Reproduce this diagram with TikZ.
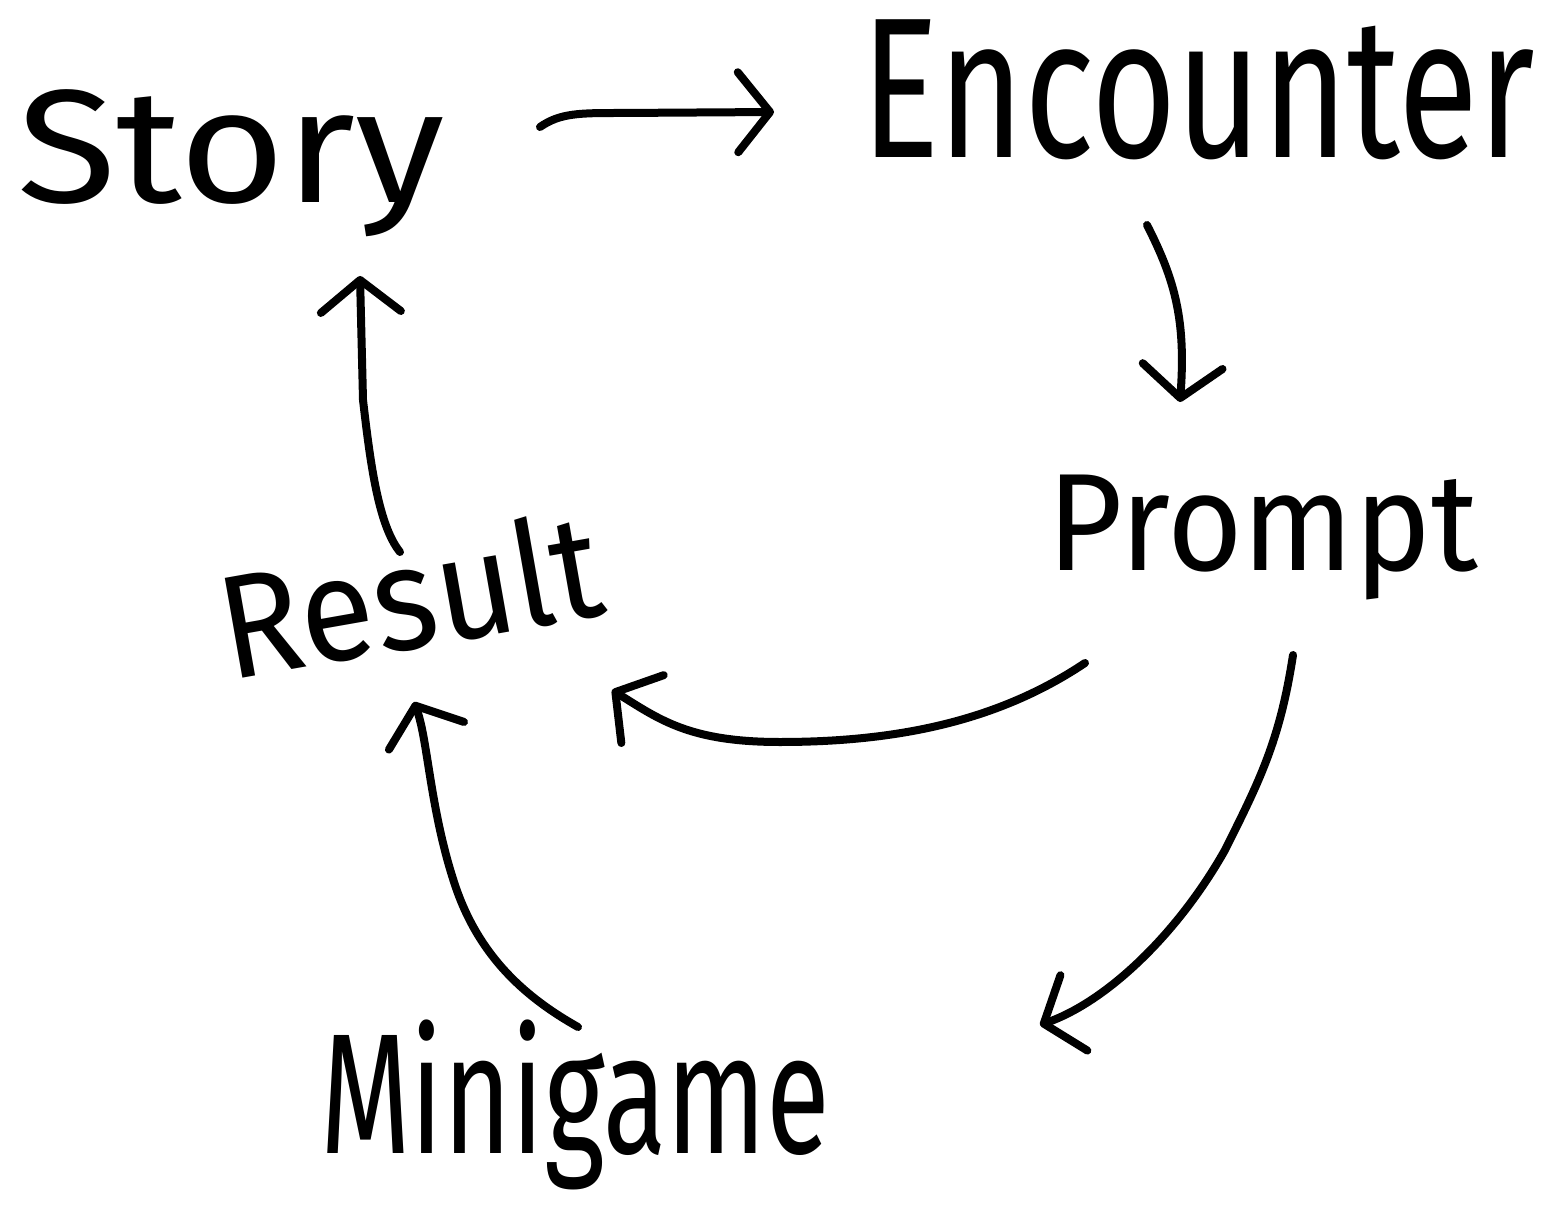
\documentclass[tikz,border=0pt]{standalone}
\usepackage{fontspec}
\usepackage{graphicx}
\newfontfamily\handfont{Fira Sans}
\usetikzlibrary{arrows.meta}
\begin{document}
\begin{tikzpicture}[x=1pt,y=-1pt,
  word/.style={inner sep=0pt,outer sep=0pt,font=\handfont},
  flow/.style={line width=8pt,line cap=round,line join=round,
    -{Straight Barb[length=32pt,width=80pt,round]}}]
\useasboundingbox (0,0) rectangle (1550,1206);
% words
\node[word] (story) at (231,163) {\resizebox*{427pt}{147pt}{Story}};
\node[word] (encounter) at (1198,90) {\resizebox*{673pt}{140pt}{Encounter}};
\node[word] (prompt) at (1263,537) {\resizebox*{430pt}{125pt}{Prompt}};
\node[word,rotate=10] (result) at (410,594) {\resizebox*{385pt}{112pt}{Result}};
\node[word] (minigame) at (575,1105) {\resizebox*{510pt}{170pt}{Minigame}};
% connector end points
\coordinate (se1) at (540,127);
\coordinate (se2) at (774,112);
\coordinate (ep1) at (1147,225);
\coordinate (ep2) at (1180,402);
\coordinate (rs1) at (400,552);
\coordinate (rs2) at (360,276);
\coordinate (pr1) at (1085,663);
\coordinate (pr2) at (612,690);
\coordinate (pm1) at (1293,655);
\coordinate (pm2) at (1040,1025);
\coordinate (mr1) at (578,1027);
\coordinate (mr2) at (414,702);
% connectors
\draw[flow] (se1) .. controls (560,113) and (580,113) .. (620,113) -- (se2);
\draw[flow] (ep1) .. controls (1175,280) and (1186,320) .. (ep2);
\draw[flow] (rs1) .. controls (378,525) and (370,460) .. (363,400) -- (rs2);
\draw[flow] (pr1) .. controls (1000,720) and (900,742) .. (780,742)
  .. controls (690,742) and (660,720) .. (pr2);
\draw[flow] (pm1) .. controls (1280,740) and (1260,780) .. (1225,850)
  .. controls (1180,930) and (1110,1000) .. (pm2);
\draw[flow] (mr1) .. controls (530,1000) and (480,960) .. (455,885)
  .. controls (430,810) and (428,740) .. (mr2);
\end{tikzpicture}
\end{document}
